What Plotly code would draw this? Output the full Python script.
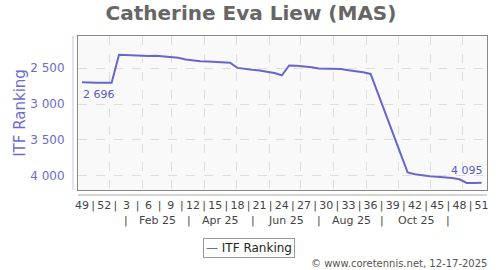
import pandas as pd
import plotly.graph_objects as go

# ---- data ----
start_date = "2024-12-06"
ranks = [
    2696, 2705, 2705, 2705, 2705, 2316, 2320, 2326, 2333, 2332,
    2328, 2338, 2350, 2358, 2380, 2396, 2405, 2410, 2414, 2418,
    2425, 2498, 2515, 2525, 2533, 2550, 2570, 2601, 2465, 2470,
    2476, 2490, 2505, 2508, 2510, 2515, 2530, 2540, 2560, 2582,
    None, None, None, None, 3950, 3975, 3995, 4005, 4010, 4015,
    4028, 4046, 4097, 4096, 4095,
]
week_labels = ["49", "52", "3", "6", "9", "12", "15", "18", "21", "24",
               "27", "30", "33", "36", "39", "42", "45", "48", "51"]
month_labels = ["Feb 25", "Apr 25", "Jun 25", "Aug 25", "Oct 25"]
month_label_dates = ["2025-02-15", "2025-04-16", "2025-06-17", "2025-08-18", "2025-10-18"]
month_sep_dates = ["2025-01-17", "2025-03-17", "2025-05-17", "2025-07-18", "2025-09-16", "2025-11-17"]
y_ticks = [2500, 3000, 3500, 4000]
y_ticktext = ["2 500", "3 000", "3 500", "4 000"]

dates = pd.date_range(start_date, periods=len(ranks), freq="7D")

LINE = "#6666cc"
fig = go.Figure()
fig.add_trace(go.Scatter(
    x=dates, y=ranks, mode="lines", name="ITF Ranking",
    line=dict(color=LINE, width=2), connectgaps=True, showlegend=False,
))

label_dates = list(dates[::3])
sep_dates = [d + pd.Timedelta(days=10.5) for d in label_dates[:-1]]
tickvals = label_dates + sep_dates
ticktext = week_labels + ["|"] * len(sep_dates)

base = pd.Timestamp(start_date)
x0 = base - pd.Timedelta(days=3.8)
x1 = base + pd.Timedelta(days=383.1)

fig.update_layout(
    width=500, height=270,
    margin=dict(l=78, r=13, t=36, b=80, autoexpand=False),
    paper_bgcolor="white", plot_bgcolor="#f9f9f9",
    font=dict(family="DejaVu Sans", size=11, color="#333"),
    title=dict(text="<b>Catherine Eva Liew (MAS)</b>", x=0.502, xref="container",
               y=0.952, yanchor="middle", xanchor="center",
               font=dict(size=20, color="#666", family="DejaVu Sans")),
    showlegend=False,
    xaxis=dict(type="date", range=[x0, x1], showgrid=False, zeroline=False,
               automargin=False,
               showline=True, mirror=True, linecolor="#888", linewidth=1,
               tickvals=tickvals, ticktext=ticktext, ticks="",
               tickfont=dict(size=11, color="#444"), ticklabelstandoff=5,
               minor=dict(dtick="M1", tick0="2025-01-01", showgrid=True,
                          griddash="dash", gridcolor="#dedede", gridwidth=1)),
    yaxis=dict(autorange=False, range=[4195, 2055], showgrid=True, gridcolor="#dedede",
               automargin=False,
               griddash="dash", zeroline=False, showline=True, mirror=True,
               linecolor="#888", linewidth=1, tickvals=y_ticks, ticktext=y_ticktext,
               ticks="", ticklabelstandoff=10,
               tickfont=dict(size=12, color="#6b6bcf"),
               title=dict(text="ITF Ranking", font=dict(size=15, color="#6b6bcf"),
                          standoff=0)),
)

# offset axis lines
fig.add_shape(type="line", xref="paper", yref="paper", x0=-0.0122, x1=-0.0122,
              y0=0, y1=1, line=dict(color="#c4c4e6", width=1))
fig.add_shape(type="line", xref="paper", yref="paper", x0=0, x1=1,
              y0=-0.0325, y1=-0.0325, line=dict(color="#aaaaaa", width=1))

# month row
for d, t in zip(month_label_dates, month_labels):
    fig.add_annotation(x=d, xref="x", y=-0.195, yref="paper", text=t, showarrow=False,
                       font=dict(size=11, color="#444"), yanchor="middle")
for d in month_sep_dates:
    fig.add_annotation(x=d, xref="x", y=-0.195, yref="paper", text="|", showarrow=False,
                       font=dict(size=11, color="#444"), yanchor="middle")

# value labels
fig.add_annotation(x=dates[0], y=ranks[0], text="2 696", showarrow=False,
                   xanchor="left", yanchor="top", yshift=-4, xshift=-1,
                   font=dict(size=11, color="#5a5ac4"))
fig.add_annotation(x=dates[-1], y=ranks[-1], text="4 095", showarrow=False,
                   xanchor="right", yanchor="bottom", yshift=4, xshift=3,
                   font=dict(size=11, color="#5a5ac4"))

# legend box
fig.add_annotation(x=0.419, xref="paper", y=-0.377, yref="paper",
                   text="<span style='color:#6666cc'>—</span> ITF Ranking",
                   showarrow=False, xanchor="center", yanchor="middle",
                   bordercolor="#999", borderwidth=1, borderpad=2, bgcolor="white",
                   font=dict(size=12, color="#222"))

fig.add_annotation(x=1.005, xref="paper", y=-0.48, yref="paper",
                   text="© www.coretennis.net, 12-17-2025", showarrow=False,
                   xanchor="right", yanchor="middle", font=dict(size=10, color="#555"))

fig.write_html("out.html")
